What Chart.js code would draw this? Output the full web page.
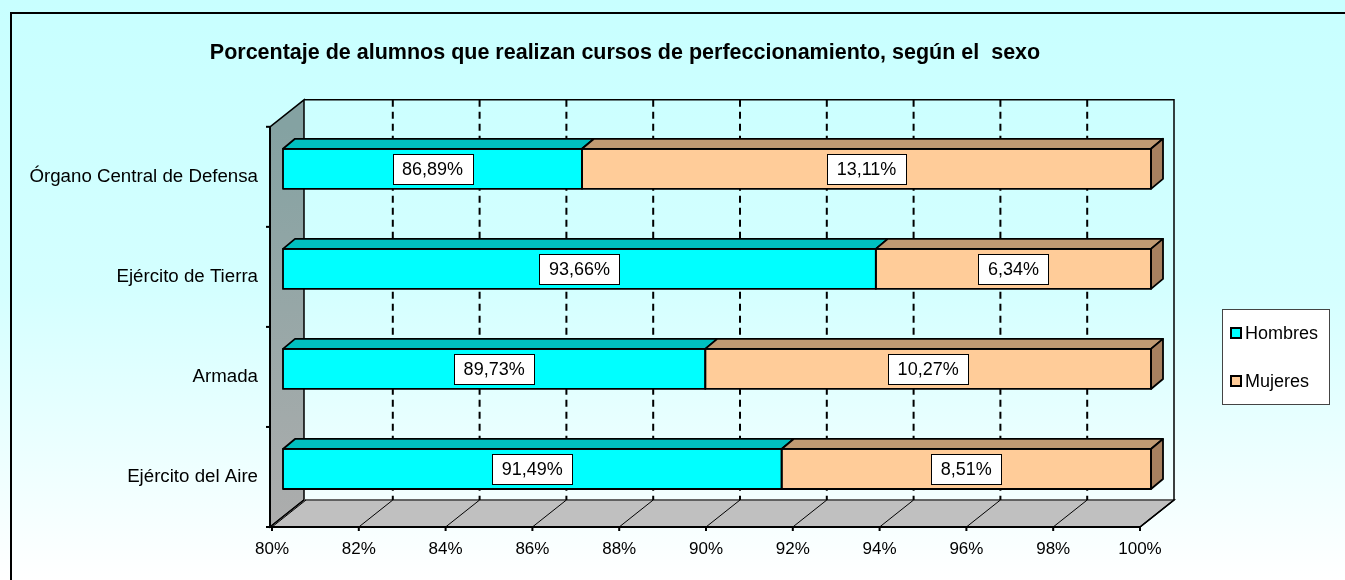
<!DOCTYPE html>
<html lang="es">
<head>
    <meta charset="UTF-8">
    <title>Porcentaje de alumnos que realizan cursos de perfeccionamiento</title>
    <script src="https://cdn.jsdelivr.net/npm/chart.js@4.4.1/dist/chart.umd.min.js"></script>
    <style>
        body { margin: 0; background: #fff; }
        #caja { position: relative; width: 1345px; height: 580px; }
    </style>
</head>
<body>
    <div id="caja"><canvas id="grafico"></canvas></div>

    <script>
        // Datos
        const categorias = ['Órgano Central de Defensa', 'Ejército de Tierra', 'Armada', 'Ejército del Aire'];
        const hombres = [86.89, 93.66, 89.73, 91.49];
        const mujeres = [13.11, 6.34, 10.27, 8.51];
        const series = ['Hombres', 'Mujeres'];
        const ejeMin = 80;
        const ejeMax = 100;
        const ejePaso = 2;

        const FUENTE = "'Liberation Sans', Arial, sans-serif";
        // profundidad 3D: pared trasera y barras
        const PX = 34, PY = -27;
        const BX = 11, BY = -8;
        const DBX = 12, DBY = -10;

        function formato(v) {
            return v.toFixed(2).replace('.', ',') + '%';
        }

        // Fondo, paredes, suelo y rejilla
        const fondo3d = {
            id: 'fondo3d',
            beforeDraw(chart) {
                const { ctx, width, height, chartArea } = chart;
                const xs = chart.scales.x;
                const L = chartArea.left, R = chartArea.right, T = chartArea.top, B = chartArea.bottom;
                ctx.save();

                const g = ctx.createLinearGradient(0, 0, 0, height);
                g.addColorStop(0, '#C8FFFF');
                g.addColorStop(0.5, '#D4FFFF');
                g.addColorStop(1, '#FFFFFF');
                ctx.fillStyle = g;
                ctx.fillRect(0, 0, width, height);
                ctx.strokeStyle = '#000';
                ctx.lineWidth = 2;
                ctx.strokeRect(11, 13, width + 10, height + 10);

                // pared izquierda
                const gp = ctx.createLinearGradient(0, T, 0, B);
                gp.addColorStop(0, '#84A2A2');
                gp.addColorStop(1, '#ADADAD');
                ctx.beginPath();
                ctx.moveTo(L - 2, T);
                ctx.lineTo(L - 2 + PX, T + PY);
                ctx.lineTo(L - 2 + PX, B + PY);
                ctx.lineTo(L - 2, B);
                ctx.closePath();
                ctx.fillStyle = gp;
                ctx.fill();
                ctx.lineWidth = 1.5;
                ctx.stroke();

                // suelo
                ctx.beginPath();
                ctx.moveTo(L - 2, B);
                ctx.lineTo(L - 2 + PX, B + PY);
                ctx.lineTo(R + PX, B + PY);
                ctx.lineTo(R, B);
                ctx.closePath();
                ctx.fillStyle = '#C0C0C0';
                ctx.fill();
                ctx.stroke();
                ctx.strokeStyle = '#909090';
                ctx.lineWidth = 1;
                ctx.beginPath();
                ctx.moveTo(L - 2 + PX, B + PY);
                ctx.lineTo(R + PX, B + PY);
                ctx.stroke();

                // borde de la pared trasera
                ctx.strokeStyle = '#000';
                ctx.lineWidth = 1.5;
                ctx.beginPath();
                ctx.moveTo(L - 2 + PX, T + PY);
                ctx.lineTo(R + PX, T + PY);
                ctx.lineTo(R + PX, B + PY);
                ctx.lineTo(R, B);
                ctx.stroke();

                // rejilla: discontinua detras, diagonales en el suelo
                for (let v = ejeMin; v <= ejeMax; v += ejePaso) {
                    const xf = xs.getPixelForValue(v);
                    if (v > ejeMin && v < ejeMax) {
                        ctx.setLineDash([7, 5]);
                        ctx.lineWidth = 2;
                        ctx.beginPath();
                        ctx.moveTo(xf + PX, T + PY);
                        ctx.lineTo(xf + PX, B + PY);
                        ctx.stroke();
                        ctx.setLineDash([]);
                    }
                    ctx.lineWidth = 1;
                    ctx.beginPath();
                    ctx.moveTo(xf, B);
                    ctx.lineTo(xf + PX, B + PY);
                    ctx.stroke();
                    // marca del eje
                    ctx.lineWidth = 2;
                    ctx.beginPath();
                    ctx.moveTo(xf, B);
                    ctx.lineTo(xf, B + 4);
                    ctx.stroke();
                }

                // ejes frontales
                ctx.lineWidth = 2;
                ctx.beginPath();
                ctx.moveTo(L - 2, T);
                ctx.lineTo(L - 2, B);
                ctx.lineTo(R, B);
                ctx.stroke();
                const n = categorias.length;
                for (let i = 0; i <= n; i++) {
                    const y = T + (B - T) * i / n;
                    ctx.beginPath();
                    ctx.moveTo(L - 6, y);
                    ctx.lineTo(L - 2, y);
                    ctx.stroke();
                }
                ctx.restore();
            },
            beforeDatasetsDraw(chart) {
                chart.ctx.save();
                chart.ctx.translate(BX, BY);
            },
            afterDatasetsDraw(chart) {
                const { ctx, chartArea } = chart;
                const ultima = chart.data.datasets.length - 1;
                const etiquetas = [];
                chart.data.datasets.forEach((ds, di) => {
                    const meta = chart.getDatasetMeta(di);
                    meta.data.forEach((el, i) => {
                        const p = el.getProps(['x', 'base', 'y', 'height'], true);
                        const x0 = Math.max(Math.min(p.base, p.x), chartArea.left);
                        const x1 = Math.min(Math.max(p.base, p.x), chartArea.right);
                        const t = p.y - p.height / 2, b = p.y + p.height / 2;
                        ctx.lineWidth = 1.8;
                        ctx.strokeStyle = '#000';
                        ctx.lineJoin = 'round';
                        // cara superior
                        ctx.beginPath();
                        ctx.moveTo(x0, t);
                        ctx.lineTo(x0 + DBX, t + DBY);
                        ctx.lineTo(x1 + DBX, t + DBY);
                        ctx.lineTo(x1, t);
                        ctx.closePath();
                        ctx.fillStyle = ds.caraSuperior;
                        ctx.fill();
                        ctx.stroke();
                        // cara lateral
                        if (di === ultima) {
                            ctx.beginPath();
                            ctx.moveTo(x1, t);
                            ctx.lineTo(x1 + DBX, t + DBY);
                            ctx.lineTo(x1 + DBX, b + DBY);
                            ctx.lineTo(x1, b);
                            ctx.closePath();
                            ctx.fillStyle = ds.caraLateral;
                            ctx.fill();
                            ctx.stroke();
                        }
                        ctx.strokeRect(x0, t, x1 - x0, b - t);
                        etiquetas.push({ texto: formato(ds.data[i]), x: (x0 + x1) / 2 + BX, y: p.y + BY });
                    });
                });
                ctx.restore();

                // etiquetas de datos
                ctx.save();
                ctx.font = '18px ' + FUENTE;
                ctx.textAlign = 'center';
                ctx.textBaseline = 'middle';
                etiquetas.forEach(e => {
                    const w = Math.round(ctx.measureText(e.texto).width + 19);
                    const h = 30;
                    const bx = Math.round(e.x - w / 2), by = Math.round(e.y - h / 2);
                    ctx.fillStyle = '#fff';
                    ctx.fillRect(bx, by, w, h);
                    ctx.strokeStyle = '#000';
                    ctx.lineWidth = 1;
                    ctx.strokeRect(bx + 0.5, by + 0.5, w, h);
                    ctx.fillStyle = '#000';
                    ctx.fillText(e.texto, e.x, e.y + 1);
                });
                ctx.restore();
            },
            afterDraw(chart) {
                // leyenda con recuadro
                const { ctx, chartArea } = chart;
                const lx = chartArea.right + 82, ly = 309, lw = 107, lh = 95;
                ctx.save();
                ctx.fillStyle = '#fff';
                ctx.fillRect(lx, ly, lw, lh);
                ctx.strokeStyle = '#444';
                ctx.lineWidth = 1;
                ctx.strokeRect(lx + 0.5, ly + 0.5, lw, lh);
                ctx.font = '18px ' + FUENTE;
                ctx.textBaseline = 'middle';
                chart.data.datasets.forEach((ds, i) => {
                    const cy = ly + 24 + i * 48;
                    ctx.fillStyle = ds.backgroundColor;
                    ctx.fillRect(lx + 9, cy - 5, 10, 10);
                    ctx.strokeStyle = '#000';
                    ctx.lineWidth = 2;
                    ctx.strokeRect(lx + 9, cy - 5, 10, 10);
                    ctx.fillStyle = '#000';
                    ctx.fillText(ds.label, lx + 23, cy + 1);
                });
                ctx.restore();
            }
        };

        const ctx = document.getElementById('grafico').getContext('2d');
        new Chart(ctx, {
            type: 'bar',
            data: {
                labels: categorias,
                datasets: [
                    {
                        label: series[0],
                        data: hombres,
                        backgroundColor: '#00FFFF',
                        caraSuperior: '#00C0C0',
                        caraLateral: '#009C9C',
                        borderWidth: 0,
                        categoryPercentage: 0.8,
                        barPercentage: 0.5
                    },
                    {
                        label: series[1],
                        data: mujeres,
                        backgroundColor: '#FFCC99',
                        caraSuperior: '#C09A72',
                        caraLateral: '#A6805F',
                        borderWidth: 0,
                        categoryPercentage: 0.8,
                        barPercentage: 0.5
                    }
                ]
            },
            options: {
                indexAxis: 'y',
                responsive: true,
                maintainAspectRatio: false,
                animation: false,
                layout: { padding: { left: 10, right: 105, top: 12, bottom: 0 } },
                plugins: {
                    legend: { display: false },
                    tooltip: { enabled: false },
                    title: {
                        display: true,
                        text: 'Porcentaje de alumnos que realizan cursos de perfeccionamiento, según el  sexo',
                        color: '#000',
                        font: { family: FUENTE, size: 21.5, weight: 'bold' },
                        padding: { top: 28, bottom: 61 }
                    }
                },
                scales: {
                    x: {
                        stacked: true,
                        min: ejeMin,
                        max: ejeMax,
                        grid: { display: false, drawTicks: false },
                        border: { display: false },
                        ticks: {
                            stepSize: ejePaso,
                            padding: 12,
                            color: '#000',
                            font: { family: FUENTE, size: 17 },
                            callback: v => v + '%'
                        },
                        afterFit: s => { s.height = 53; }
                    },
                    y: {
                        stacked: true,
                        grid: { display: false, drawTicks: false },
                        border: { display: false },
                        ticks: {
                            padding: 14,
                            color: '#000',
                            font: { family: FUENTE, size: 18.7 }
                        },
                        afterFit: s => { s.width = 262; }
                    },
                    derecha: {
                        type: 'linear',
                        position: 'right',
                        display: true,
                        grid: { display: false, drawTicks: false },
                        border: { display: false },
                        ticks: { display: false },
                        afterFit: s => { s.width = 100; }
                    }
                }
            },
            plugins: [fondo3d]
        });
    </script>
</body>
</html>
